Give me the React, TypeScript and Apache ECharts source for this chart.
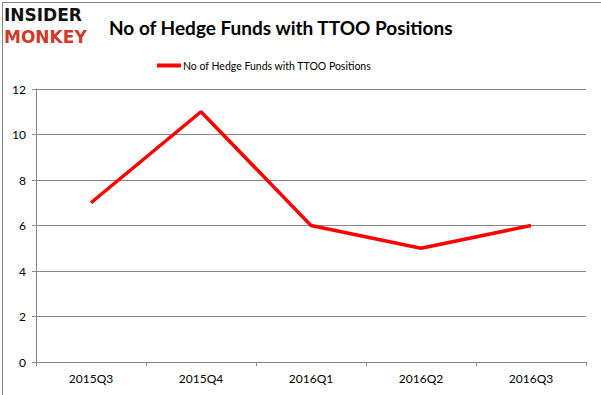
import React, { useEffect, useRef } from "react";
import * as echarts from "echarts";

const categories = ["2015Q3", "2015Q4", "2016Q1", "2016Q2", "2016Q3"];
const values = [7, 11, 6, 5, 6];
const seriesName = "No of Hedge Funds with TTOO Positions";
const titleText = "No of Hedge Funds with TTOO Positions";

export default function App() {
  const ref = useRef<HTMLDivElement>(null);
  useEffect(() => {
    if (!ref.current) return;
    const chart = echarts.init(ref.current, null, { renderer: "svg" });
    chart.setOption({
      animation: false,
      backgroundColor: "#fff",
      title: {
        text: titleText,
        left: 104,
        top: 13,
        textStyle: { fontFamily: "Lato", fontSize: 19, fontWeight: "bold", color: "#000" },
      },
      legend: {
        top: 55,
        left: 152,
        itemWidth: 24,
        itemHeight: 4,
        itemGap: 2,
        icon: "rect",
        data: [seriesName],
        textStyle: { fontFamily: "Lato", fontSize: 10.5, color: "#000", padding: [0, 0, 0, -3] },
      },
      graphic: [
        {
          type: "rect",
          left: 0,
          top: 0,
          shape: { width: 600, height: 394 },
          style: { fill: "none", stroke: "#888", lineWidth: 1 },
          z: -1,
        },
        {
          type: "text",
          left: 4,
          top: 6,
          style: { text: "INSIDER", fontFamily: "DejaVu Sans", fontWeight: 900, fontSize: 17, fill: "#111" },
        },
        {
          type: "text",
          left: 4,
          top: 28,
          style: { text: "MONKEY", fontFamily: "DejaVu Sans", fontWeight: 900, fontSize: 17, fill: "#d0392b" },
        },
      ],
      grid: { left: 36, right: 15, top: 89, bottom: 33 },
      xAxis: {
        type: "category",
        data: categories,
        boundaryGap: true,
        axisLine: { lineStyle: { color: "#888" } },
        axisTick: { show: true, length: 4, lineStyle: { color: "#888" } },
        axisLabel: { fontFamily: "Lato", fontSize: 12, color: "#000", margin: 10 },
      },
      yAxis: {
        type: "value",
        min: 0,
        max: 12,
        interval: 2,
        axisLine: { show: true, lineStyle: { color: "#888" } },
        axisTick: { show: true, length: 4, lineStyle: { color: "#888" } },
        splitLine: { lineStyle: { color: "#888" } },
        axisLabel: { fontFamily: "Lato", fontSize: 12, color: "#000", margin: 10 },
      },
      series: [
        {
          name: seriesName,
          type: "line",
          data: values,
          symbol: "none",
          lineStyle: { color: "#ff0000", width: 3.5 },
          itemStyle: { color: "#ff0000" },
        },
      ],
    });
    return () => chart.dispose();
  }, []);
  return <div ref={ref} style={{ width: 601, height: 395, position: "absolute", left: 0, top: 0 }} />;
}
